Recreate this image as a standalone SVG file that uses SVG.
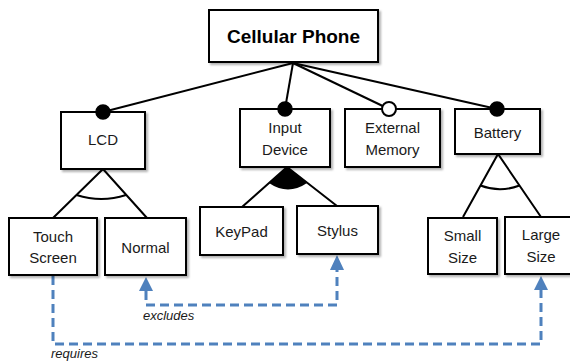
<svg xmlns="http://www.w3.org/2000/svg" width="570" height="362" viewBox="0 0 570 362">
  <defs>
    <filter id="sh" x="-10%" y="-10%" width="130%" height="130%">
      <feDropShadow dx="2" dy="2" stdDeviation="1.2" flood-color="#000" flood-opacity="0.3"/>
    </filter>
    <marker id="arr" viewBox="0 0 16 14" refX="15" refY="7" markerWidth="16" markerHeight="14" markerUnits="userSpaceOnUse" orient="auto">
      <path d="M0,0 L15,7 L0,14 Z" fill="#4F81BD"/>
    </marker>
  </defs>
  <style>
    .box { fill: #fff; stroke: #000; stroke-width: 2; filter: url(#sh); }
    .t { font-family: "Liberation Sans", Arial, sans-serif; font-size: 15px; fill: #1a1a1a; text-anchor: middle; }
    .tb { font-family: "Liberation Sans", Arial, sans-serif; font-size: 19px; font-weight: bold; fill: #000; text-anchor: middle; }
    .edge { fill: none; stroke: #000; stroke-width: 2; }
    .dot { fill: #000; stroke: #000; stroke-width: 1.5; }
    .hollow { fill: #fff; stroke: #000; stroke-width: 2; }
    .dep { fill: none; stroke: #4F81BD; stroke-width: 3; stroke-dasharray: 9 5; }
    .lbl { font-family: "Liberation Sans", Arial, sans-serif; font-size: 13px; font-style: italic; fill: #1a1a1a; }
  </style>
  <rect width="570" height="362" fill="#fff"/>

  <g id="connectors">
    <line class="edge" x1="293" y1="63" x2="103" y2="112"/>
    <line class="edge" x1="293" y1="63" x2="285" y2="109"/>
    <line class="edge" x1="293" y1="63" x2="389" y2="109"/>
    <line class="edge" x1="293" y1="63" x2="497" y2="109"/>
    <path class="edge" d="M53,218 L103,169 L147,218"/>
    <path class="edge" d="M76.5,195 Q101.5,203 126,195"/>
    <path class="edge" d="M242,207 L287,167 L337,206"/>
    <path d="M287,167 L269,183 Q288,196 307,183 Z" fill="#000"/>
    <path class="edge" d="M463,217 L498,154 L541,217"/>
    <path class="edge" d="M480.5,185.5 Q500,193 519.5,185.5"/>
    <path class="dep" d="M146,291 V305 H337 V270"/>
    <path d="M146,277 L139,291 L153,291 Z" fill="#4F81BD"/>
    <path d="M337,255 L330,270 L344,270 Z" fill="#4F81BD"/>
    <path class="dep" d="M53,276 V344 H541 V290"/>
    <path d="M541,276 L534,290 L548,290 Z" fill="#4F81BD"/>
    <text class="lbl" x="143" y="320">excludes</text>
    <text class="lbl" x="51" y="358">requires</text>
  </g>

  <g id="cellular-phone">
    <rect class="box" x="209" y="10" width="169" height="52"/>
    <text class="tb" x="293.5" y="43">Cellular Phone</text>
  </g>
  <g id="lcd">
    <rect class="box" x="61" y="112" width="84" height="57"/>
    <text class="t" x="103" y="145">LCD</text>
    <circle class="dot" cx="103" cy="112" r="7"/>
  </g>
  <g id="input-device">
    <rect class="box" x="240" y="109" width="90" height="58"/>
    <text class="t" x="285" y="133">Input</text>
    <text class="t" x="285" y="155">Device</text>
    <circle class="dot" cx="285" cy="109" r="7"/>
  </g>
  <g id="external-memory">
    <rect class="box" x="345" y="109" width="95" height="58"/>
    <text class="t" x="392.5" y="133">External</text>
    <text class="t" x="392.5" y="155">Memory</text>
    <circle class="hollow" cx="389" cy="109" r="7"/>
  </g>
  <g id="battery">
    <rect class="box" x="455" y="109" width="85" height="45"/>
    <text class="t" x="497.5" y="138">Battery</text>
    <circle class="dot" cx="497" cy="109" r="7"/>
  </g>
  <g id="touch-screen">
    <rect class="box" x="9" y="218" width="88" height="57"/>
    <text class="t" x="53" y="242">Touch</text>
    <text class="t" x="53" y="263">Screen</text>
  </g>
  <g id="normal">
    <rect class="box" x="105" y="218" width="81" height="57"/>
    <text class="t" x="145.5" y="253">Normal</text>
  </g>
  <g id="keypad">
    <rect class="box" x="200" y="207" width="83" height="48"/>
    <text class="t" x="241.5" y="237">KeyPad</text>
  </g>
  <g id="stylus">
    <rect class="box" x="297" y="206" width="81" height="48"/>
    <text class="t" x="337.5" y="236">Stylus</text>
  </g>
  <g id="small-size">
    <rect class="box" x="428" y="218" width="69" height="56"/>
    <text class="t" x="462.5" y="241">Small</text>
    <text class="t" x="462.5" y="263">Size</text>
  </g>
  <g id="large-size">
    <rect class="box" x="505" y="217" width="72" height="57"/>
    <text class="t" x="541" y="240">Large</text>
    <text class="t" x="541" y="262">Size</text>
  </g>
</svg>
